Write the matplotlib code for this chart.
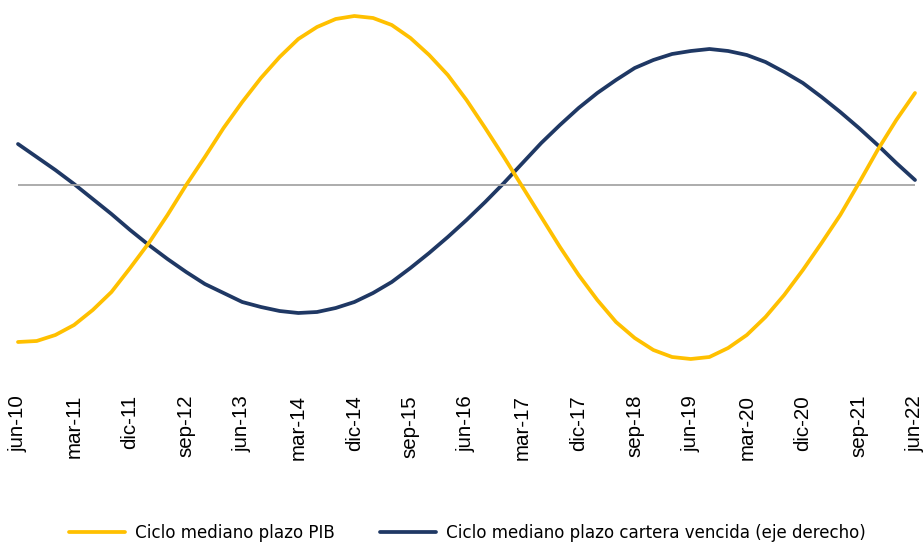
import matplotlib.pyplot as plt
import pandas as pd
from matplotlib import font_manager

# Quarterly cycle estimates, jun-10 .. jun-22
ciclo_pib = [-1.57, -1.56, -1.50, -1.40, -1.25, -1.07, -0.83, -0.58, -0.30, 0.00,
             0.28, 0.57, 0.83, 1.07, 1.28, 1.46, 1.58, 1.66, 1.69, 1.67,
             1.60, 1.47, 1.30, 1.10, 0.85, 0.57, 0.28, -0.02, -0.32, -0.62,
             -0.90, -1.15, -1.37, -1.53, -1.65, -1.72, -1.74, -1.72, -1.63, -1.50,
             -1.32, -1.10, -0.85, -0.58, -0.30, 0.02, 0.35, 0.65, 0.92]
ciclo_cartera = [0.164, 0.112, 0.060, 0.004, -0.056, -0.116, -0.180, -0.240, -0.296, -0.348,
                 -0.396, -0.432, -0.468, -0.488, -0.504, -0.512, -0.508, -0.492, -0.468, -0.432,
                 -0.388, -0.332, -0.272, -0.208, -0.140, -0.068, 0.008, 0.088, 0.168, 0.240,
                 0.308, 0.368, 0.420, 0.468, 0.500, 0.524, 0.536, 0.544, 0.536, 0.520,
                 0.492, 0.452, 0.408, 0.352, 0.292, 0.228, 0.160, 0.088, 0.020]
series = ["Ciclo mediano plazo PIB",
          "Ciclo mediano plazo cartera vencida (eje derecho)"]

meses = {3: "mar", 6: "jun", 9: "sep", 12: "dic"}
trimestres = pd.date_range("2010-06-30", "2022-06-30", freq="QE")
etiquetas = [f"{meses[d.month]}-{d.strftime('%y')}" for d in trimestres]

amarillo = "#FFC000"
azul = "#1F3864"

# legend uses a condensed face in the original; take a narrow one if installed
condensed = None
for f in font_manager.fontManager.ttflist:
    name = f.name + " " + str(f.stretch) + " " + f.fname
    if any(k in name.lower() for k in ("narrow", "condensed")) and f.style == "normal" \
            and f.weight in (400, "normal", "regular", "book"):
        condensed = f.fname
        break

fig = plt.figure(figsize=(9.24, 5.46), dpi=100)
W, H = 924, 546
ax = fig.add_axes([18 / W, 1 - 388 / H, (915 - 18) / W, (388 - 5) / H])
ax2 = ax.twinx()

x = list(range(len(etiquetas)))
ax.axhline(0, color="#A6A6A6", lw=1.3, zorder=1)
l1, = ax.plot(x, ciclo_pib, color=amarillo, lw=2.7, clip_on=False, zorder=3,
              solid_capstyle="round")
l2, = ax2.plot(x, ciclo_cartera, color=azul, lw=2.7, clip_on=False, zorder=3,
               solid_capstyle="round")

ax.set_zorder(ax2.get_zorder() + 1)
ax.patch.set_visible(False)

ax.set_xlim(0, len(x) - 1)
ax.set_ylim(-2.03, 1.80)
ax2.set_ylim(-2.03 * 0.4, 1.80 * 0.4)

for a in (ax, ax2):
    for s in a.spines.values():
        s.set_visible(False)
    a.set_yticks([])
    a.tick_params(length=0)

ax.set_xticks(x[::3])
ax.set_xticklabels(etiquetas[::3], rotation=90, fontsize=14.8,
                   family=["Liberation Sans", "Arimo", "DejaVu Sans"])
ax.tick_params(axis="x", pad=5)

# size the legend text so the first entry spans ~200 px as in the reference
if condensed:
    prop = font_manager.FontProperties(fname=condensed, size=16)
else:
    prop = font_manager.FontProperties(family=["Roboto", "Liberation Sans", "DejaVu Sans"],
                                       size=16)
r = fig.canvas.get_renderer()
t = fig.text(0, 0, series[0], fontproperties=prop)
w = t.get_window_extent(r).width
t.remove()
prop.set_size(16 * 200 / w)
px = prop.get_size_in_points() * 100 / 72

fig.legend([l1, l2], series,
           loc="upper center", bbox_to_anchor=(0.506, 1 - 524 / H), ncol=2,
           frameon=False, handlelength=56 / px, handletextpad=10 / px,
           columnspacing=45 / px, borderaxespad=0, borderpad=0, prop=prop)

fig.savefig("out.png", dpi=100)
